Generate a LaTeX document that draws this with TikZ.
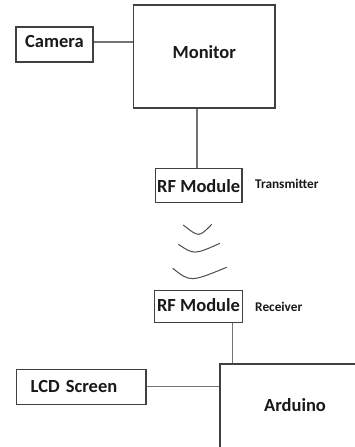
\documentclass[tikz,border=0pt]{standalone}
\usepackage{fontspec}
\setmainfont{Carlito}
\begin{document}
\begin{tikzpicture}[x=1pt,y=-1pt,
  box/.style={draw=black!75, line width=1.1pt, rectangle, inner sep=0pt,
    font=\fontsize{18.5}{20}\selectfont\bfseries, text=black!90},
  side/.style={font=\fontsize{13.3}{15}\selectfont\bfseries, text=black!90, inner sep=0pt, anchor=base west},
  conn/.style={draw=black!55, line width=1.1pt},
  wave/.style={draw=black!70, line width=1pt}]
\useasboundingbox (0,0) rectangle (355,447);
\clip (0,0) rectangle (355,447);
\fill[white] (0,0) rectangle (355,447);
\node[box, minimum width=77pt, minimum height=35pt, text height=12pt, text depth=5.6pt] (camera) at (54.5,44.5) {Camera};
\node[box, minimum width=141.3pt, minimum height=103pt, text height=12pt, text depth=9pt] (monitor) at (204.3,56.5) {Monitor};
\node[box, minimum width=86.5pt, minimum height=34.4pt, text height=15pt, text depth=0.6pt] (rftx) at (198.7,185.5) {RF Module};
\node[side] (tx) at (255,188.7) {Transmitter};
\node[box, minimum width=87.5pt, minimum height=32.3pt, text height=12pt, text depth=1pt] (rfrx) at (198.5,306.2) {RF Module};
\node[side] (rx) at (255,311.7) {Receiver};
\node[box, inner xsep=14pt, text width=101.3pt, align=left, minimum height=35pt, text height=12pt, text depth=0.2pt] (lcd) at (81.3,386.8) {LCD Screen};
\node[box, minimum width=150pt, minimum height=86pt, text height=12pt, text depth=2.6pt] (arduino) at (295,407) {Arduino};
\draw[conn] ([yshift=2.5pt]camera.east) -- ([yshift=2.5pt]camera.east -| monitor.west);
\draw[conn] ([xshift=-1.7pt]rftx.north) -- ([xshift=-1.7pt]rftx.north |- monitor.south);
\draw[conn] ([xshift=-10pt]rfrx.south east) -- ([xshift=-10pt]rfrx.south east |- arduino.north);
\draw[conn] (lcd.east) -- (lcd.east -| arduino.west);
\draw[wave] (183.3,225) .. controls (199,237.5) .. (211.7,224.3);
\draw[wave] (178.3,244.3) .. controls (194.2,254.8) .. (220,243.3);
\draw[wave] (172.7,268.3) .. controls (190.3,282.2) .. (226.7,267.3);
\end{tikzpicture}
\end{document}
